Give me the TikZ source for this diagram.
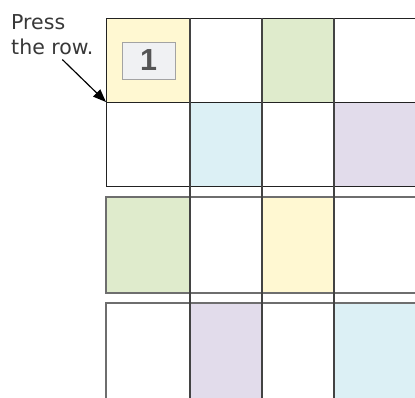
\documentclass[tikz,border=0pt]{standalone}
\usepackage{fontspec}
\setmainfont{DejaVu Sans}
\newfontfamily\keyfont{Liberation Sans}
\usetikzlibrary{arrows.meta,positioning}
\definecolor{PADY}{HTML}{FFF8D2}
\definecolor{PADG}{HTML}{DFEBCC}
\definecolor{PADB}{HTML}{DCF0F5}
\definecolor{PADP}{HTML}{E2DCEB}
\definecolor{INK}{HTML}{222222}
\definecolor{SOFT}{HTML}{6E6E6E}
\definecolor{KEYF}{HTML}{F0F1F3}
\definecolor{KEYD}{HTML}{A3A3A3}
\definecolor{DIGIT}{HTML}{555555}

\begin{document}
\begin{tikzpicture}[
  x=0.03cm, y=-0.03cm,
  rowline/.style={draw=INK, line width=0.8pt},
  softline/.style={draw=SOFT, line width=1.1pt},
  colline/.style={draw=INK!85!white, line width=0.9pt},
  keycap/.style={draw=KEYD, fill=KEYF, line width=0.7pt, minimum width=1.59cm, minimum height=1.11cm, inner sep=0pt, font=\keyfont\bfseries\fontsize{26}{26}\selectfont, text=DIGIT},
  note/.style={font=\fontsize{17.5}{22}\selectfont, text=INK!90!white, align=left, inner sep=0pt},
  callout/.style={-{Triangle[length=3.9mm, width=3mm]}, draw=black, line width=1pt}
]
\useasboundingbox (0,0) rectangle (415,398);
\clip (0,0) rectangle (415,398);

% coloured pads
\foreach \px/\py/\pw/\ph/\pc in {
  106/18/84/84/PADY, 262/18/72/84/PADG,
  190/102/72/84/PADB, 334/102/90/84/PADP,
  106/197/84/96/PADG, 262/197/72/96/PADY,
  190/303/72/100/PADP, 334/303/90/100/PADB}
  \fill[\pc] (\px,\py) rectangle ++(\pw,\ph);

% row strips
\draw[rowline] (420,18) -- (106,18) -- (106,186) -- (420,186);
\draw[rowline] (106,102) -- (420,102);
\draw[softline] (420,197) -- (106,197) -- (106,293) -- (420,293);
\draw[softline] (420,303) -- (106,303) -- (106,410);

% column lines
\foreach \cx in {190,262,334}
  \draw[colline] (\cx,18) -- (\cx,410);

% key and label
\node[keycap] (key) at (148.5,60.5) {1};
\node[note, anchor=north west] (press) at (11,14) {Press\\the row.};
\coordinate (hit) at (106,102);
\draw[callout] ([shift={(10,4)}]press.south) -- (hit);

\end{tikzpicture}
\end{document}
